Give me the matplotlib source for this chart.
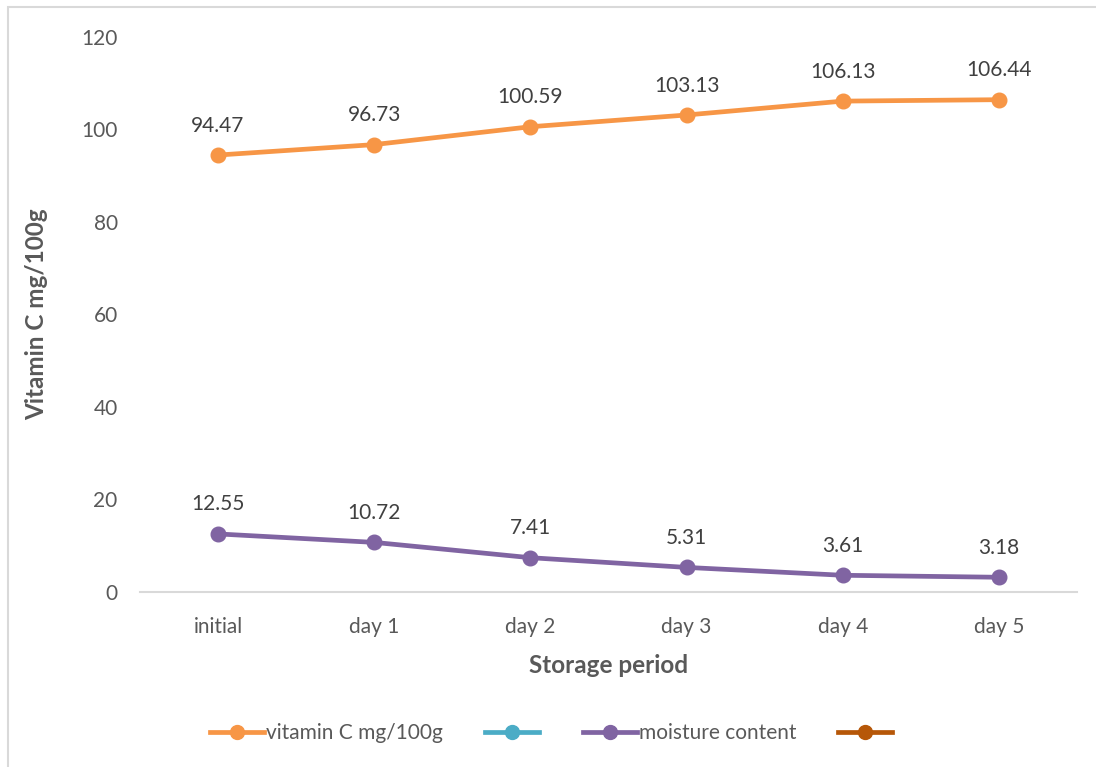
import matplotlib.pyplot as plt
from matplotlib.lines import Line2D
from matplotlib.patches import Rectangle

plt.rcParams['font.family'] = ['Lato', 'DejaVu Sans']

# storage data
periods = ['initial', 'day 1', 'day 2', 'day 3', 'day 4', 'day 5']
vitamin_c = [94.47, 96.73, 100.59, 103.13, 106.13, 106.44]
moisture = [12.55, 10.72, 7.41, 5.31, 3.61, 3.18]

orange = '#F79646'
purple = '#8064A2'
teal = '#4BACC6'
brown = '#B65708'
text_gray = '#595959'

fig = plt.figure(figsize=(10.96, 7.67), dpi=100)
ax = fig.add_axes([0.1277, 0.2282, 0.855, 0.7236])

# outer chart border
fig.patches.append(Rectangle((8 / 1096, -0.01), 1.1, (767 - 7) / 767 + 0.01,
                             transform=fig.transFigure, fill=False,
                             edgecolor='#D9D9D9', linewidth=1.5))

x = range(len(periods))
ax.plot(x, vitamin_c, color=orange, lw=3.4, marker='o', ms=10.5,
        solid_capstyle='round')
ax.plot(x, moisture, color=purple, lw=3.4, marker='o', ms=10.5,
        solid_capstyle='round')

for xi, v in zip(x, vitamin_c):
    ax.annotate(f'{v:.2f}', (xi, v), xytext=(0, 14), textcoords='offset points',
                ha='center', va='bottom', fontsize=15, color='#404040')
for xi, v in zip(x, moisture):
    ax.annotate(f'{v:.2f}', (xi, v), xytext=(0, 14), textcoords='offset points',
                ha='center', va='bottom', fontsize=15, color='#404040')

ax.set_xlim(-0.5, len(periods) - 0.5)
ax.set_ylim(0, 120)
ax.set_yticks(range(0, 121, 20))
ax.set_xticks(list(x))
ax.set_xticklabels(periods)
ax.tick_params(axis='both', length=0, labelsize=15, labelcolor=text_gray)
ax.tick_params(axis='y', pad=16)
ax.tick_params(axis='x', pad=18)

for side in ['top', 'right', 'left']:
    ax.spines[side].set_visible(False)
ax.spines['bottom'].set_color('#D9D9D9')
ax.spines['bottom'].set_linewidth(1.5)

ax.set_ylabel('Vitamin C mg/100g', fontsize=17.5, fontweight='bold',
              color=text_gray, labelpad=24)
ax.set_xlabel('Storage period', fontsize=17.5, fontweight='bold',
              color=text_gray, labelpad=12)

handles = [
    Line2D([], [], color=orange, lw=3.4, marker='o', ms=10),
    Line2D([], [], color=teal, lw=3.4, marker='o', ms=10),
    Line2D([], [], color=purple, lw=3.4, marker='o', ms=10),
    Line2D([], [], color=brown, lw=3.4, marker='o', ms=10),
]
labels = ['vitamin C mg/100g', '', 'moisture content', '']
fig.legend(handles, labels, loc='center', bbox_to_anchor=(0.504, 0.044),
           ncol=4, frameon=False, fontsize=15, handlelength=2.6,
           handletextpad=0.1, columnspacing=2.0, labelcolor=text_gray)

fig.savefig('out.png', dpi=100)
